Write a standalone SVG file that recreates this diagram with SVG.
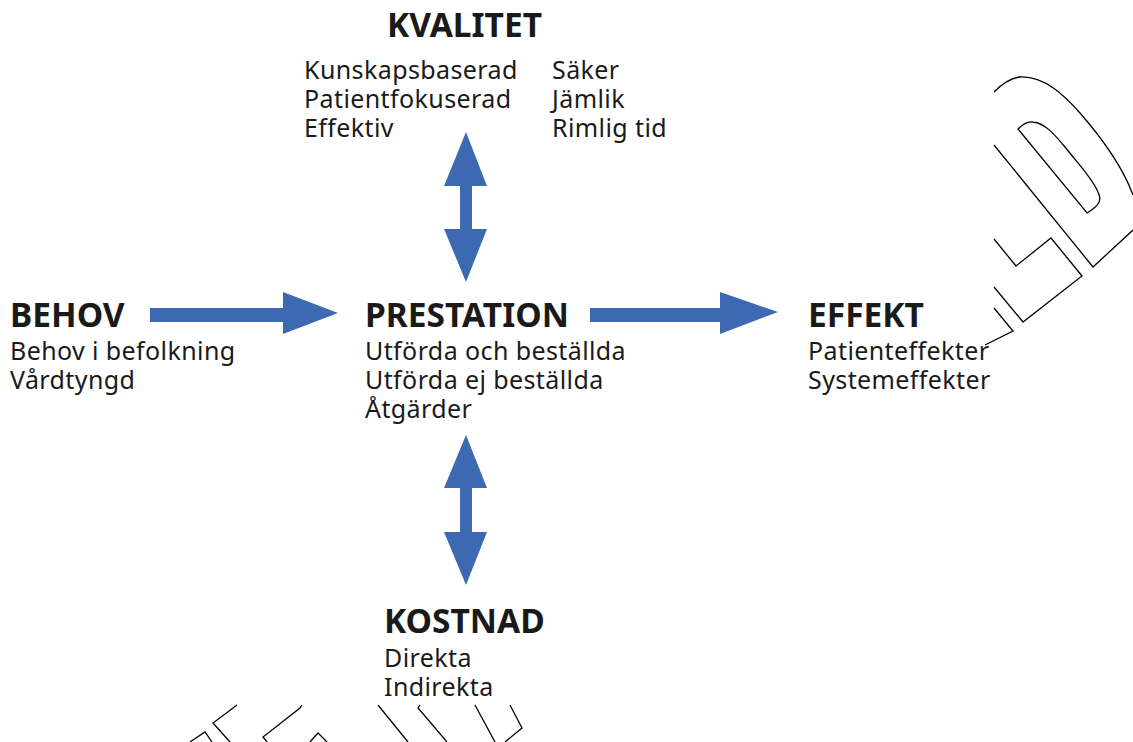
<svg xmlns="http://www.w3.org/2000/svg" width="1133" height="742" viewBox="0 0 1133 742">
<style>
.h{font-family:"Noto Sans","Open Sans",sans-serif;font-weight:bold;font-size:33.5px;fill:#1a1a1a}
.t{font-family:"Noto Sans","Open Sans",sans-serif;font-size:25px;letter-spacing:0.4px;fill:#1a1a1a}
.a{fill:#3d69b3}
.w{fill:none;stroke:#000;stroke-width:1.3;stroke-linejoin:miter}
</style>
<rect width="1133" height="742" fill="#fff"/>
<g id="watermark">
<path class="w" d="M994,92 C1002,84 1010,78 1020,77 C1045,76 1065,96 1080,113 C1100,136 1122,165 1133,195"/>
<path class="w" d="M1133,230 L1093,267 L994,145"/>
<path class="w" d="M1018,129 C1024,123 1028,121 1033,122 C1045,123 1055,135 1065,147 C1080,166 1092,178 1098,192 C1102,200 1100,205 1087,213 Z"/>
<path class="w" d="M994,239 L1016,266 L1051,238 L1082,276 L1023,322 L994,287"/>
<path class="w" d="M994,308 L1013,331 L985,345"/>
<path class="w" d="M190,742 L205,732 L212,742"/>
<path class="w" d="M237,705 L213,723 L230,742"/>
<path class="w" d="M302,705 L300,708 L263,737 L267,742"/>
<path class="w" d="M310,742 L318,733 L327,742"/>
<path class="w" d="M378,705 L408,742"/>
<path class="w" d="M420,705 L418,708 L447,742"/>
<path class="w" d="M475,705 L495,742"/>
<path class="w" d="M510,705 L522,728 L505,742"/>
</g>
<g id="connectors">
<path class="a" d="M150,308 H283 V292 L338,313 L283,334 V322 H150 Z"/>
<path class="a" d="M590,308 H720 V292 L778,312 L720,334 V322 H590 Z"/>
<path class="a" d="M466,132 L487,186 H472 V229 H487 L466,282 L444,229 H460 V186 H444 Z"/>
<path class="a" d="M466,435 L487,488 H472 V532 H487 L466,585 L444,532 H460 V488 H444 Z"/>
</g>
<g id="kvalitet">
<text class="h" x="387" y="37">KVALITET</text>
<text class="t" x="304" y="79">Kunskapsbaserad</text>
<text class="t" x="304" y="108">Patientfokuserad</text>
<text class="t" x="304" y="137">Effektiv</text>
<text class="t" x="552" y="79">Säker</text>
<text class="t" x="552" y="108">Jämlik</text>
<text class="t" x="552" y="137">Rimlig tid</text>
</g>
<g id="behov">
<text class="h" x="10" y="327">BEHOV</text>
<text class="t" x="10" y="360">Behov i befolkning</text>
<text class="t" x="10" y="389">Vårdtyngd</text>
</g>
<g id="prestation">
<text class="h" x="365" y="327">PRESTATION</text>
<text class="t" x="365" y="360">Utförda och beställda</text>
<text class="t" x="365" y="389">Utförda ej beställda</text>
<text class="t" x="365" y="418">Åtgärder</text>
</g>
<g id="effekt">
<text class="h" x="808" y="327">EFFEKT</text>
<text class="t" x="808" y="360">Patienteffekter</text>
<text class="t" x="808" y="389">Systemeffekter</text>
</g>
<g id="kostnad">
<text class="h" x="384" y="633">KOSTNAD</text>
<text class="t" x="384" y="667">Direkta</text>
<text class="t" x="384" y="696">Indirekta</text>
</g>
</svg>
